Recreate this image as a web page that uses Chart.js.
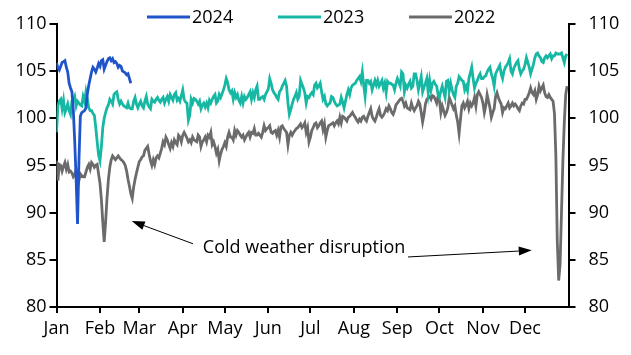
<!DOCTYPE html>
<html>
<head>
<meta charset="utf-8">
<script src="https://cdn.jsdelivr.net/npm/chart.js@4.4.1/dist/chart.umd.min.js"></script>
<style>
  html, body { margin: 0; padding: 0; background: #fff; }
  #wrap { width: 631px; height: 355px; }
</style>
</head>
<body>
<div id="wrap"><canvas id="c" width="631" height="355"></canvas></div>
<script>
// ---- Data (day-of-year index, 0 = 1 Jan) ----
const monthStarts = [0, 31, 59, 90, 120, 151, 181, 212, 243, 273, 304, 334];
const monthLabels = ['Jan','Feb','Mar','Apr','May','Jun','Jul','Aug','Sep','Oct','Nov','Dec'];
const yTickValues = [80, 85, 90, 95, 100, 105, 110];
const seriesNames = ['2024', '2023', '2022'];

const values2024 = [
  105.9,105.3,105.1,105.5,105.9,106.0,106.1,105.4,104.9,103.7,
  103.2,102.8,100.8,97.5,93.5,88.8,95.5,100.2,100.6,100.7,
  100.8,101.1,102.6,103.5,104.2,104.9,105.4,105.2,104.9,105.3,
  105.8,105.5,106.1,106.2,105.2,105.6,106.0,106.3,106.4,106.1,
  106.3,105.9,106.0,105.8,105.4,105.6,105.5,105.0,104.9,104.8,
  104.6,104.7,104.2,103.7
];

const values2023 = [
  98.5,101.3,101.8,102.0,101.0,101.9,100.6,101.0,101.5,100.8,
  100.4,101.8,101.9,102.3,101.3,101.8,101.6,101.4,101.3,102.3,
  101.8,102.8,102.0,101.1,100.8,100.8,100.5,100.3,99.0,97.5,
  96.1,95.5,97.0,99.0,100.0,100.6,101.1,101.4,102.0,101.8,
  101.5,102.5,102.7,102.8,102.0,101.5,101.8,101.5,101.3,101.2,
  101.1,101.6,101.1,101.0,101.0,101.8,102.2,101.5,101.1,101.5,
  101.8,101.3,101.1,101.8,102.3,101.5,101.2,101.0,102.0,101.8,
  101.7,102.0,102.2,101.9,101.7,102.0,102.2,101.6,102.0,102.3,
  101.8,102.5,102.2,101.9,102.5,102.7,101.9,102.1,101.8,102.4,
  103.0,102.0,101.7,101.6,99.8,100.3,102.0,101.6,102.1,102.0,
  101.8,101.5,101.8,101.0,101.4,101.6,101.2,101.6,101.1,101.9,
  101.6,102.0,102.3,102.5,101.6,101.8,102.5,102.2,102.6,103.0,
  103.5,104.2,103.8,103.0,102.7,102.9,102.0,102.7,102.2,102.5,
  101.9,101.6,102.3,101.6,102.3,102.0,102.2,102.5,102.8,102.0,
  102.7,102.2,103.0,103.4,102.0,102.0,102.2,102.3,102.0,102.5,
  102.8,103.1,104.2,103.7,103.0,102.7,102.5,102.2,102.0,102.8,
  103.0,103.4,103.7,104.0,103.4,101.6,100.4,100.9,101.5,102.0,
  102.3,102.7,102.0,102.3,104.0,103.6,103.2,102.7,101.6,102.3,
  102.2,102.5,102.7,102.5,103.5,103.7,103.2,103.4,103.7,102.8,
  102.0,102.3,101.5,101.3,101.5,101.6,102.3,102.2,101.8,101.5,
  101.3,101.4,101.5,102.2,101.7,101.1,101.8,102.5,103.0,102.5,
  103.2,103.5,103.6,103.7,104.0,104.2,104.4,103.9,104.9,103.5,
  102.3,104.0,104.0,103.7,103.9,103.0,103.5,104.0,103.5,104.0,
  103.4,103.7,104.0,103.2,103.7,102.7,103.9,103.7,103.7,103.6,
  103.5,103.0,103.7,104.2,103.8,103.4,104.9,104.7,102.8,103.5,
  103.2,103.6,103.9,103.2,103.4,104.7,104.7,104.0,103.0,103.7,
  104.4,102.8,103.3,103.7,104.2,102.7,104.0,103.0,103.7,103.9,
  103.6,103.4,102.5,102.2,102.9,103.4,102.8,102.2,103.9,104.0,
  102.9,103.7,103.0,102.5,102.2,103.4,103.7,104.4,104.2,104.0,
  103.9,103.0,103.4,102.9,104.2,104.8,105.4,104.2,103.2,103.7,
  104.0,104.4,104.7,104.2,104.2,104.4,104.5,104.9,105.2,105.4,
  104.7,104.2,103.4,104.7,105.0,105.3,105.6,104.7,104.2,105.0,
  105.4,105.6,105.9,106.3,105.0,104.7,105.3,105.6,105.9,106.1,
  105.2,104.7,105.0,105.2,105.7,106.4,105.9,105.4,104.7,105.2,
  105.7,106.4,106.8,106.9,106.6,106.4,106.0,105.9,106.4,106.6,
  106.4,106.6,106.8,106.3,106.6,106.6,106.9,106.8,106.8,106.8,
  106.9,106.4,105.9,106.6,106.8
];

const values2022 = [
  95.5,93.4,95.1,95.0,94.4,94.9,95.3,94.6,95.1,94.3,
  94.4,94.2,93.8,94.0,94.6,93.8,93.4,94.1,93.9,93.8,
  93.8,94.3,94.8,95.1,94.6,95.3,95.1,94.8,95.0,95.1,
  94.1,93.1,91.4,89.0,86.9,89.0,91.5,93.5,94.8,95.6,
  96.0,95.8,95.6,95.8,96.0,95.8,95.6,95.5,95.3,95.0,
  94.4,93.5,92.8,92.0,91.5,92.7,93.5,94.2,94.8,95.4,
  95.6,95.9,96.0,96.6,96.8,97.0,96.2,95.5,95.0,95.6,
  95.1,95.8,96.0,95.8,96.3,96.8,97.5,97.2,98.0,97.7,
  97.2,96.8,97.4,97.0,97.7,97.4,97.2,98.2,98.0,97.5,
  98.2,98.5,98.2,97.9,97.5,97.7,97.4,98.0,97.7,97.6,
  97.5,98.2,98.0,97.0,97.5,97.7,98.0,97.5,98.2,98.0,
  98.5,97.2,97.5,97.0,96.3,96.7,95.5,96.2,96.7,97.0,
  97.4,97.0,98.0,98.5,98.0,98.0,97.7,98.7,98.2,98.7,
  98.5,98.2,98.0,98.2,97.7,98.0,98.3,98.5,98.0,98.5,
  98.4,98.9,98.2,98.2,98.4,98.2,98.0,98.5,99.2,98.7,
  98.9,99.0,99.2,98.5,98.4,98.6,98.7,98.2,98.7,98.0,
  99.1,99.2,98.9,98.7,98.5,97.2,98.2,98.5,98.2,98.5,
  98.7,98.9,99.0,99.2,99.4,99.0,99.2,99.5,98.5,99.0,
  97.5,98.0,98.7,99.0,99.4,99.5,99.0,99.2,99.5,99.7,
  98.8,99.4,98.0,98.7,99.2,99.3,99.4,99.5,99.2,99.5,
  99.7,99.4,100.1,99.5,100.2,100.1,99.9,99.7,100.1,100.2,
  100.4,100.6,100.3,100.1,99.8,99.6,99.9,99.7,100.1,100.2,
  99.9,99.7,100.2,100.6,101.0,100.2,99.9,99.7,100.1,100.6,
  101.0,100.3,100.1,100.3,100.6,101.0,100.8,101.3,101.0,100.6,
  100.4,100.8,101.4,101.6,101.8,102.0,102.1,101.8,101.3,101.6,
  101.1,101.0,100.9,101.6,101.1,100.8,101.1,101.3,101.8,101.5,
  100.6,99.6,100.4,101.5,102.0,102.2,102.3,102.0,102.4,102.3,
  102.0,101.6,102.3,101.9,100.6,101.3,100.8,100.3,100.6,101.1,
  102.2,101.8,101.4,101.0,101.3,100.3,99.6,98.4,99.9,101.3,
  101.6,101.1,101.4,101.8,101.0,101.6,101.3,101.6,102.2,101.3,
  102.5,102.8,102.5,102.2,101.6,100.6,101.3,102.5,101.8,101.1,
  100.1,100.6,101.0,102.3,102.7,102.2,101.8,101.5,100.6,101.1,
  101.0,101.3,101.6,101.1,101.3,101.6,101.3,101.5,101.3,101.0,
  100.8,101.3,101.6,101.5,102.0,102.0,102.3,102.7,103.2,102.7,
  102.5,102.9,102.0,102.5,103.4,102.9,103.2,103.5,102.7,102.3,
  102.2,102.5,102.2,102.0,101.8,100.5,96.0,87.0,82.8,84.5,
  90.0,95.5,99.5,102.5,103.4
];

// Annotation anchors in data units (day-of-year, index value)
const annotationText = 'Cold weather disruption';
const annotationTextAt = [176.5, 86.3];
const arrowLeft = { from: [97.3, 86.7], to: [53.6, 89.1] };
const arrowRight = { from: [250.6, 85.3], to: [338.8, 86.0] };

// ---- Chart ----
const FONT = "'Open Sans', 'Noto Sans', sans-serif";
const FS = 18;
const toPoints = arr => arr.map((v, i) => ({ x: i, y: v }));

const colors = ['#1f55c9', '#17b8a3', '#6b6b6b'];

const legendPlugin = {
  id: 'customLegend',
  afterDraw(chart) {
    const ctx = chart.ctx;
    const y = 17;
    const lineLen = 43;
    let x = 147;
    ctx.save();
    ctx.font = FS + 'px ' + FONT;
    ctx.textBaseline = 'middle';
    ctx.textAlign = 'left';
    chart.data.datasets.forEach(ds => {
      ctx.strokeStyle = ds.borderColor;
      ctx.lineWidth = 3;
      ctx.beginPath();
      ctx.moveTo(x, y);
      ctx.lineTo(x + lineLen, y);
      ctx.stroke();
      ctx.fillStyle = '#000';
      ctx.fillText(ds.label, x + lineLen + 2, y + 1);
      x += 131;
    });
    ctx.restore();
  }
};

function drawArrow(ctx, x1, y1, x2, y2) {
  const ang = Math.atan2(y2 - y1, x2 - x1);
  const headLen = 13, headHalf = 4.5;
  const bx = x2 - headLen * Math.cos(ang), by = y2 - headLen * Math.sin(ang);
  ctx.beginPath();
  ctx.moveTo(x1, y1);
  ctx.lineTo(bx, by);
  ctx.stroke();
  ctx.beginPath();
  ctx.moveTo(x2, y2);
  ctx.lineTo(bx + headHalf * Math.sin(ang), by - headHalf * Math.cos(ang));
  ctx.lineTo(bx - headHalf * Math.sin(ang), by + headHalf * Math.cos(ang));
  ctx.closePath();
  ctx.fill();
}

const annotationPlugin = {
  id: 'annot',
  afterDatasetsDraw(chart) {
    const ctx = chart.ctx, xs = chart.scales.x, ys = chart.scales.y;
    const px = p => [xs.getPixelForValue(p[0]), ys.getPixelForValue(p[1])];
    ctx.save();
    ctx.strokeStyle = '#000';
    ctx.fillStyle = '#000';
    ctx.lineWidth = 1;
    const a1 = px(arrowLeft.from), b1 = px(arrowLeft.to);
    drawArrow(ctx, a1[0], a1[1], b1[0], b1[1]);
    const a2 = px(arrowRight.from), b2 = px(arrowRight.to);
    drawArrow(ctx, a2[0], a2[1], b2[0], b2[1]);
    const t = px(annotationTextAt);
    ctx.font = FS + 'px ' + FONT;
    ctx.textAlign = 'center';
    ctx.textBaseline = 'middle';
    ctx.fillText(annotationText, t[0], t[1]);
    ctx.restore();
  }
};

const yAxisCommon = {
  type: 'linear',
  min: 80,
  max: 110,
  afterBuildTicks: s => { s.ticks = yTickValues.map(v => ({ value: v })); },
  grid: { display: true, drawOnChartArea: false, drawTicks: true, tickLength: 7, color: '#000', lineWidth: 2 },
  border: { display: true, color: '#000', width: 2 }
};

new Chart(document.getElementById('c'), {
  type: 'line',
  data: {
    datasets: [
      { label: seriesNames[0], data: toPoints(values2024), borderColor: colors[0], borderWidth: 2.8, pointRadius: 0, fill: false, order: 0 },
      { label: seriesNames[1], data: toPoints(values2023), borderColor: colors[1], borderWidth: 2.8, pointRadius: 0, fill: false, order: 1 },
      { label: seriesNames[2], data: toPoints(values2022), borderColor: colors[2], borderWidth: 2.8, pointRadius: 0, fill: false, order: 2 }
    ]
  },
  options: {
    responsive: false,
    devicePixelRatio: 1,
    animation: false,
    layout: { padding: { top: 15, left: 0, right: 0, bottom: 0 } },
    plugins: { legend: { display: false }, tooltip: { enabled: false } },
    scales: {
      x: {
        type: 'linear',
        min: 0,
        max: 365,
        afterBuildTicks: s => { s.ticks = monthStarts.map(v => ({ value: v })); },
        afterFit: s => { s.height = 48; },
        grid: { display: true, drawOnChartArea: false, drawTicks: true, tickLength: 6, color: '#000', lineWidth: 2 },
        border: { display: true, color: '#000', width: 2 },
        ticks: {
          autoSkip: false, maxRotation: 0, color: '#000', padding: 5,
          font: { family: FONT, size: FS },
          callback: v => monthLabels[monthStarts.indexOf(v)]
        }
      },
      y: Object.assign({}, yAxisCommon, {
        position: 'left',
        afterFit: s => { s.width = 56.5; },
        ticks: { color: '#000', font: { family: FONT, size: FS }, padding: 3 }
      }),
      y2: Object.assign({}, yAxisCommon, {
        position: 'right',
        afterFit: s => { s.width = 62.5; },
        ticks: { color: '#000', font: { family: FONT, size: FS }, padding: 13 }
      })
    }
  },
  plugins: [annotationPlugin, legendPlugin]
});
</script>
</body>
</html>
